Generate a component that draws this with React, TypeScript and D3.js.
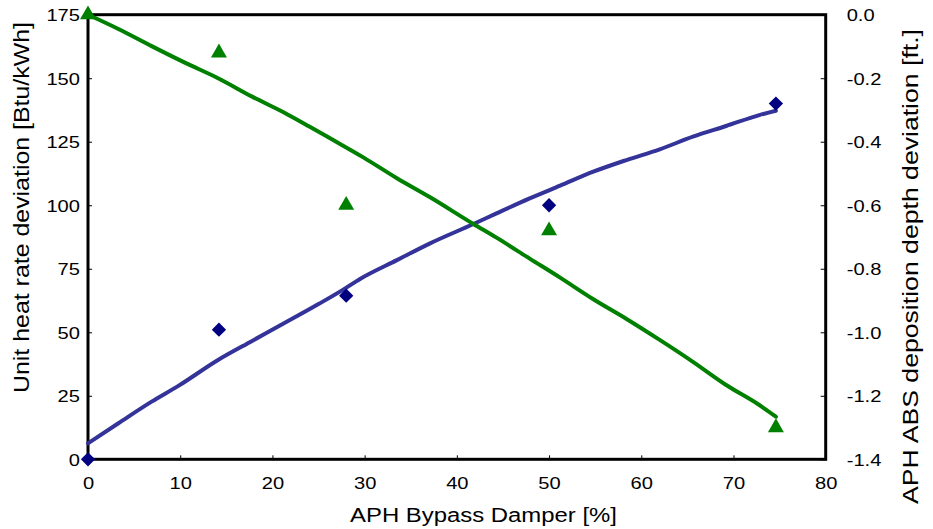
import React, { useEffect, useRef } from 'react';
import * as d3 from 'd3';

// fitted curve, unit heat rate deviation (left axis)
const heatX = [0, 3.3, 6.9, 9.8, 14.1, 17.8, 21.4, 25, 27.5, 29.5, 33.5, 37.1, 41.8, 44.3, 47.9, 51.2, 54.8, 58.4, 62, 65.6, 69.2, 72.8, 74.6];
const heatFit = [6.3, 14.2, 22.7, 28.9, 39.1, 46.6, 53.8, 61.1, 66.4, 71, 78.4, 85, 92.6, 96.8, 102.7, 107.7, 113.2, 117.8, 122, 127, 131.2, 135.5, 137.2];

// fitted curve, APH ABS deposition depth deviation (right axis)
const absX = [0, 3.3, 6.9, 10.5, 14.1, 17.8, 21.4, 24, 26.3, 29.9, 33.5, 37.1, 41.8, 44.3, 47.9, 51.2, 54.8, 58.4, 62, 65.6, 69.2, 72.8, 74.6];
const absFit = [0, -0.045, -0.099, -0.151, -0.2, -0.258, -0.31, -0.352, -0.39, -0.45, -0.515, -0.575, -0.659, -0.702, -0.768, -0.828, -0.896, -0.958, -1.024, -1.093, -1.166, -1.229, -1.266];

// measured points
const measX = [0, 14.2, 28, 50, 74.6];
const measHeat = [0, 51, 64.4, 100, 140];
const measAbs = [0, -0.12, -0.6, -0.68, -1.3];

const xTicks = [0, 10, 20, 30, 40, 50, 60, 70, 80];
const leftTicks = [0, 25, 50, 75, 100, 125, 150, 175];
const rightTicks = [0, -0.2, -0.4, -0.6, -0.8, -1.0, -1.2, -1.4];

const width = 933;
const height = 529;
const margins = { l: 88, r: 107.3, t: 14.7, b: 69.7 };
const tickFont = 16.5;
const stretch = 1.22;

export default function App() {
    const container = useRef<SVGSVGElement>(null);

    useEffect(() => {
        const svg = d3.select(container.current);
        svg.selectAll('*').remove();

        const plotwidth = width - margins.l - margins.r;
        const plotheight = height - margins.t - margins.b;

        const xScale = d3.scaleLinear().domain([0, 80]).range([margins.l, margins.l + plotwidth]);
        const yLeft = d3.scaleLinear().domain([0, 175]).range([margins.t + plotheight, margins.t]);
        const yRight = d3.scaleLinear().domain([-1.4, 0]).range([margins.t + plotheight, margins.t]);

        const font = 'Liberation Sans, Arial, sans-serif';

        // axes, ticks pointing inward
        const xAxis = d3.axisBottom(xScale).tickValues(xTicks).tickSizeInner(-4).tickSizeOuter(0).tickPadding(18);
        const lAxis = d3.axisLeft(yLeft).tickValues(leftTicks).tickSizeInner(-4).tickSizeOuter(0).tickPadding(8);
        const rAxis = d3.axisRight(yRight).tickValues(rightTicks).tickSizeInner(-5).tickSizeOuter(0).tickPadding(21)
            .tickFormat((d) => (+d).toFixed(1));

        const gx = svg.append('g').attr('transform', `translate(0, ${margins.t + plotheight})`).call(xAxis);
        const gl = svg.append('g').attr('transform', `translate(${margins.l}, 0)`).call(lAxis);
        const gr = svg.append('g').attr('transform', `translate(${margins.l + plotwidth}, 0)`).call(rAxis);

        [gx, gl, gr].forEach((g) => {
            g.select('.domain').remove();
            g.selectAll('.tick line').attr('stroke', '#000').attr('stroke-width', 1);
            g.selectAll('.tick text')
                .attr('font-family', font)
                .attr('font-size', tickFont)
                .attr('fill', '#000');
        });
        // glyphs in the picture are wider than they are tall
        gx.selectAll('.tick text').attr('dy', null).attr('y', 30).attr('transform', `scale(${stretch},1)`);
        gl.selectAll('.tick text').attr('x', -8 / stretch).attr('dy', '0.36em').attr('transform', `scale(${stretch},1)`);
        gr.selectAll('.tick text').attr('x', 21 / stretch).attr('dy', '0.36em').attr('transform', `scale(${stretch},1)`);

        // frame
        svg.append('rect')
            .attr('x', margins.l).attr('y', margins.t)
            .attr('width', plotwidth).attr('height', plotheight)
            .attr('fill', 'none').attr('stroke', '#000').attr('stroke-width', 3);

        // fitted lines
        const heatLine = d3.line<number>()
            .x((d, i) => xScale(heatX[i]))
            .y((d) => yLeft(d))
            .curve(d3.curveMonotoneX);
        const absLine = d3.line<number>()
            .x((d, i) => xScale(absX[i]))
            .y((d) => yRight(d))
            .curve(d3.curveMonotoneX);

        svg.append('path').datum(heatFit).attr('d', heatLine)
            .attr('fill', 'none').attr('stroke', '#333399').attr('stroke-width', 4)
            .attr('stroke-linejoin', 'round').attr('stroke-linecap', 'round');
        svg.append('path').datum(absFit).attr('d', absLine)
            .attr('fill', 'none').attr('stroke', '#008000').attr('stroke-width', 4)
            .attr('stroke-linejoin', 'round').attr('stroke-linecap', 'round');

        // measured markers
        const diamond = d3.symbol().type(d3.symbolDiamond2).size(130);
        const triangle = d3.symbol().type(d3.symbolTriangle).size(110);

        svg.selectAll('.diamond').data(measHeat).join('path')
            .attr('class', 'diamond')
            .attr('d', diamond)
            .attr('transform', (d, i) => `translate(${xScale(measX[i])}, ${yLeft(d)})`)
            .attr('fill', '#000080');

        svg.selectAll('.triangle').data(measAbs).join('path')
            .attr('class', 'triangle')
            .attr('d', triangle)
            .attr('transform', (d, i) => `translate(${xScale(measX[i])}, ${yRight(d)})`)
            .attr('fill', '#008000');

        // axis titles
        svg.append('text')
            .attr('x', 483.5).attr('y', 522)
            .attr('text-anchor', 'middle')
            .attr('font-family', font).attr('font-size', 20)
            .attr('textLength', 267).attr('lengthAdjust', 'spacingAndGlyphs')
            .text('APH Bypass Damper [%]');

        svg.append('text')
            .attr('transform', 'translate(29, 207.5) rotate(-90)')
            .attr('text-anchor', 'middle')
            .attr('font-family', font).attr('font-size', 22)
            .attr('textLength', 371).attr('lengthAdjust', 'spacingAndGlyphs')
            .text('Unit heat rate deviation [Btu/kWh]');

        svg.append('text')
            .attr('transform', 'translate(918, 266.5) rotate(-90)')
            .attr('text-anchor', 'middle')
            .attr('font-family', font).attr('font-size', 22)
            .attr('textLength', 475).attr('lengthAdjust', 'spacingAndGlyphs')
            .text('APH ABS deposition depth deviation [ft.]');
    }, []);

    return (
        <svg
            ref={container}
            width={width}
            height={height}
            style={{ position: 'absolute', left: 0, top: 0, background: '#fff' }}
        />
    );
}
